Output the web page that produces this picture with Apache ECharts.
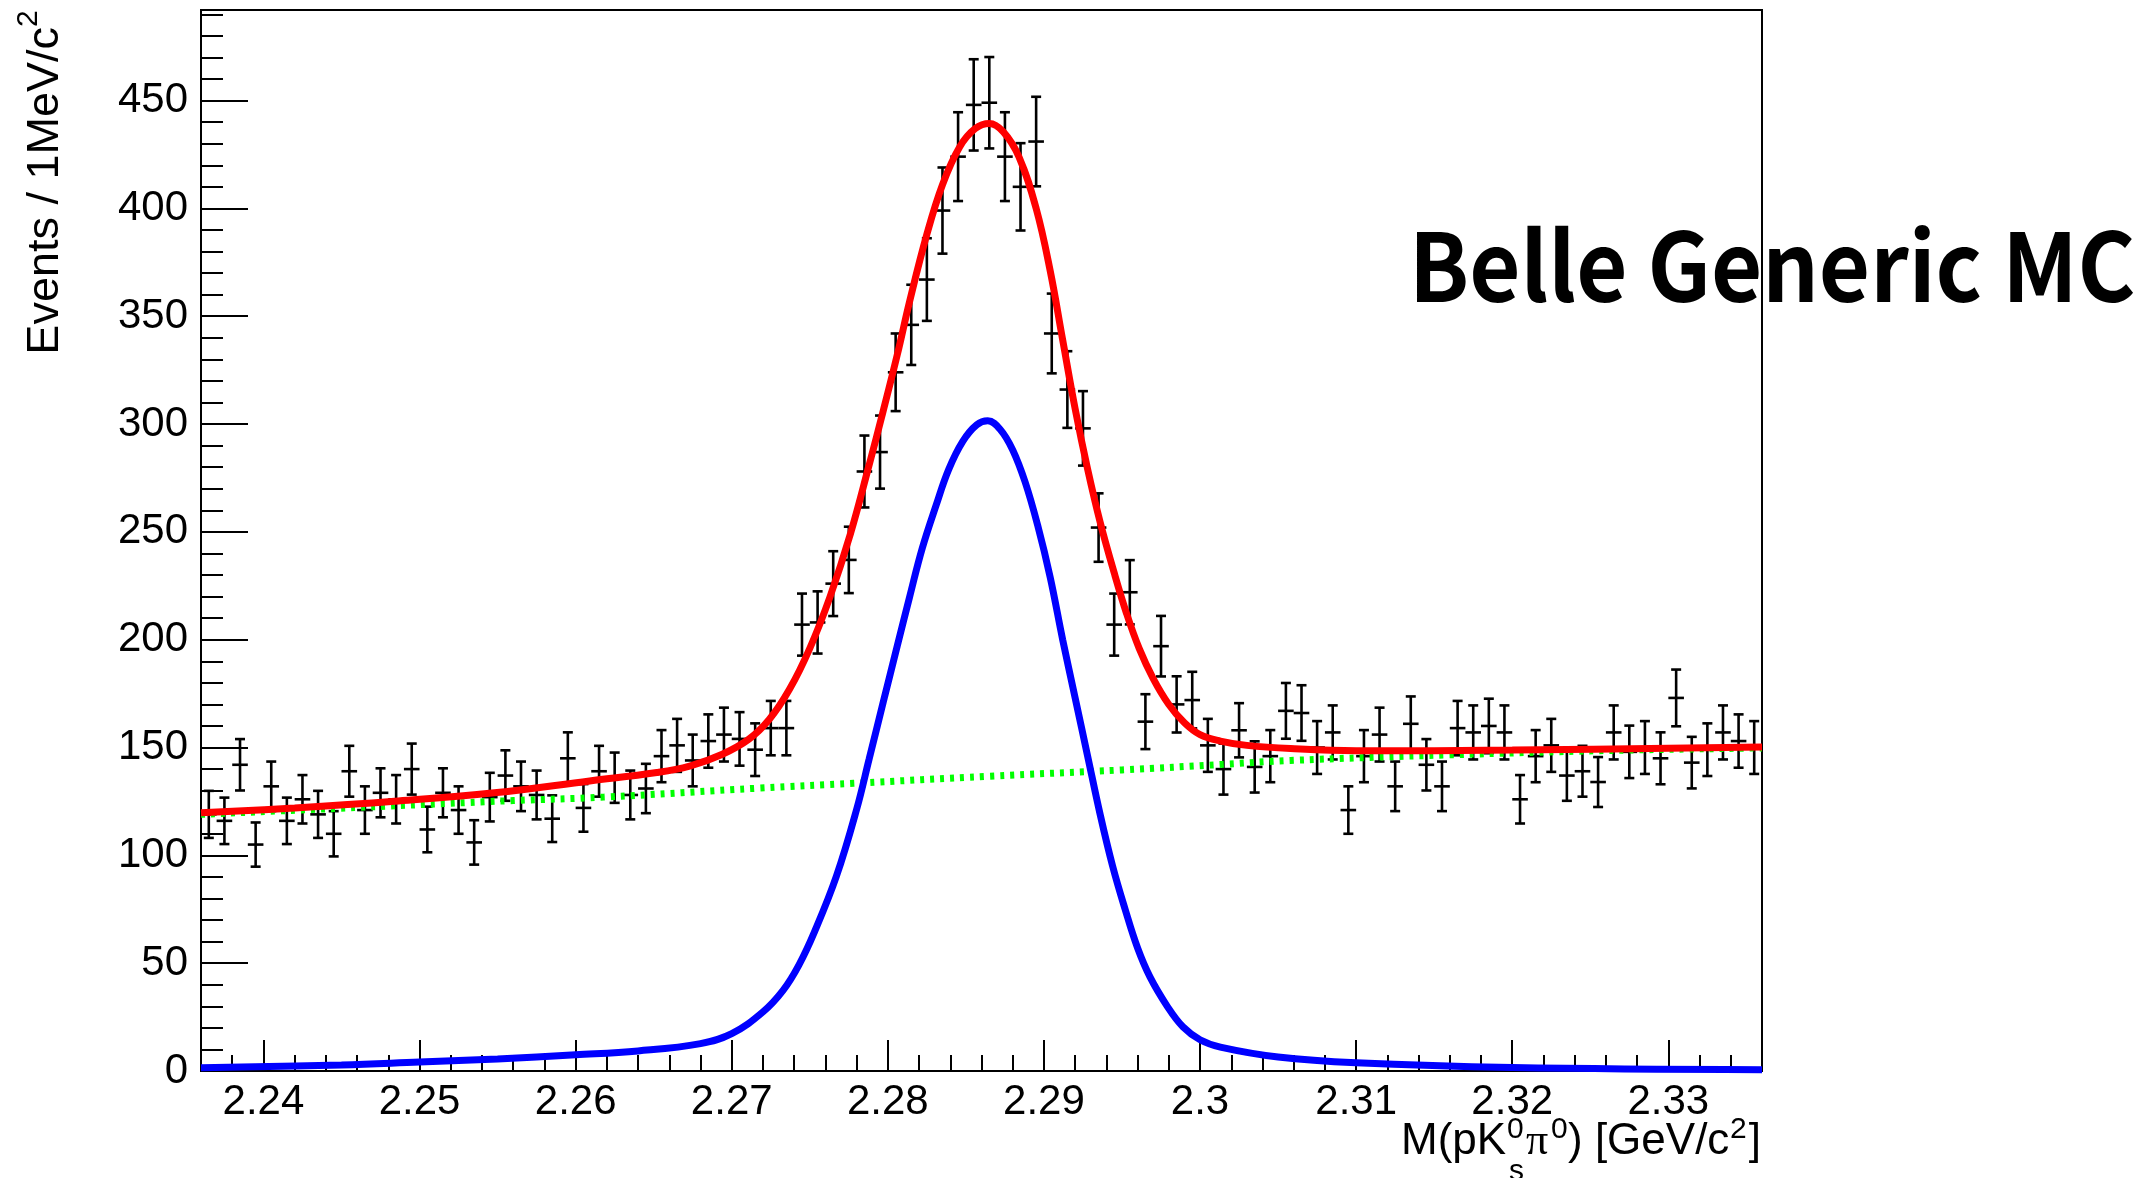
<!DOCTYPE html>
<html>
<head>
<meta charset="utf-8">
<title>Belle Generic MC</title>
<script src="https://cdn.jsdelivr.net/npm/echarts@6/dist/echarts.min.js"></script>
<style>
  html, body { margin: 0; padding: 0; background: #fff; }
  #main { width: 2156px; height: 1178px; }
</style>
</head>
<body>
<div id="main"></div>
<script>
// histogram binning (1 MeV bins)
const binLow = 2.236;
const binWidth = 0.001;
const xMin = 2.236;
const xMax = 2.336;
const yMax = 492;

// events per bin
const counts = [
  119, 116, 142, 105, 132, 116, 126, 119, 110, 139,
  121, 129, 126, 140, 112, 129, 121, 106, 127, 137,
  132, 128, 117, 145, 122, 139, 136, 128, 131, 146,
  151, 144, 153, 156, 154, 149, 159, 159, 207, 208,
  226, 237, 278, 287, 324, 346, 367, 399, 424, 448,
  449, 424, 410, 431, 342, 316, 298, 252, 207, 222,
  162, 197, 170, 172, 151, 140, 158, 141, 146, 167,
  166, 150, 157, 121, 146, 156, 132, 161, 142, 132,
  159, 157, 160, 157, 126, 146, 151, 137, 139, 134,
  157, 148, 150, 145, 173, 143, 149, 157, 153, 150
];

// tick labels
const xTickLabels = [2.24, 2.25, 2.26, 2.27, 2.28, 2.29, 2.30, 2.31, 2.32, 2.33];
const yTickLabels = [0, 50, 100, 150, 200, 250, 300, 350, 400, 450];

// fit curves: [mass, events]
const totalFit = [
  [2.2360, 119.7], [2.2420, 122.0], [2.2484, 125.1], [2.2548, 129.0], [2.2609, 134.5],
  [2.2652, 138.4], [2.2673, 141.4], [2.2694, 146.9], [2.2711, 153.9], [2.2724, 163.0],
  [2.2737, 177.0], [2.2750, 196.0], [2.2763, 220.0], [2.2776, 249.0], [2.2788, 281.0],
  [2.2797, 306.0], [2.2806, 332.0], [2.2814, 357.0], [2.2825, 388.0], [2.2835, 411.0],
  [2.2846, 428.5], [2.2856, 437.0], [2.2865, 439.4], [2.2874, 435.5], [2.2884, 423.9],
  [2.2895, 400.0], [2.2904, 371.1], [2.2912, 339.0], [2.2920, 307.0], [2.2928, 279.0],
  [2.2936, 254.5], [2.2945, 231.0], [2.2953, 212.0], [2.2961, 196.0], [2.2970, 182.0],
  [2.2980, 170.0], [2.2990, 161.5], [2.3000, 156.0], [2.3013, 153.0], [2.3030, 151.0],
  [2.3058, 149.5], [2.3100, 148.5], [2.3200, 148.8], [2.3360, 150.2]
];
const signalFit = [
  [2.2360, 1.5], [2.2450, 2.8], [2.2500, 4.2], [2.2550, 5.6], [2.2600, 7.5],
  [2.2640, 9.3], [2.2680, 12.7], [2.2700, 17.3], [2.2720, 27.4], [2.2733, 37.5],
  [2.2743, 49.1], [2.2753, 64.5], [2.2767, 90.2], [2.2780, 121.3], [2.2788, 144.6],
  [2.2797, 170.9], [2.2806, 197.0], [2.2814, 220.0], [2.2822, 242.3], [2.2831, 262.5],
  [2.2839, 279.0], [2.2848, 292.0], [2.2857, 299.7], [2.2864, 301.5], [2.2872, 297.5],
  [2.2880, 288.0], [2.2888, 273.0], [2.2896, 253.0], [2.2904, 229.0], [2.2912, 200.0],
  [2.2920, 173.0], [2.2928, 146.0], [2.2936, 119.0], [2.2944, 95.0], [2.2952, 75.0],
  [2.2960, 57.0], [2.2968, 43.5], [2.2979, 30.0], [2.2989, 20.5], [2.3000, 14.5],
  [2.3013, 11.1], [2.3050, 6.5], [2.3100, 3.8], [2.3200, 1.6], [2.3360, 0.6]
];
const backgroundFit = [
  [2.2360, 119.0], [2.2460, 122.2], [2.2560, 125.4], [2.2618, 127.0], [2.2718, 131.2],
  [2.2778, 133.4], [2.2865, 136.7], [2.2950, 139.6], [2.3015, 142.2], [2.3058, 144.0],
  [2.3160, 146.6], [2.3260, 148.6], [2.3360, 149.8]
];

// minor tick positions
const xMinorTicks = [];
for (let k = 1118; k <= 1168; k++) {
  if (k % 5 !== 0) xMinorTicks.push(+(k * 0.002).toFixed(3));
}
const yMinorTicks = [];
for (let v = 10; v < yMax; v += 10) {
  if (v % 50 !== 0) yMinorTicks.push(v);
}

const histData = counts.map((c, i) => [binLow + (i + 0.5) * binWidth, c]);

const FONT = 'Liberation Sans, Arial, Helvetica, sans-serif';

const chart = echarts.init(document.getElementById('main'));

const option = {
  animation: false,
  backgroundColor: '#fff',
  grid: {
    left: 201,
    top: 10,
    right: 394,
    bottom: 107,
    show: true,
    borderColor: '#000',
    borderWidth: 2,
    backgroundColor: 'transparent',
    containLabel: false,
    outerBoundsMode: 'none'
  },
  xAxis: [
    {
      type: 'value',
      position: 'bottom',
      min: xMin,
      max: xMax,
      axisLine: { show: true, lineStyle: { color: '#000', width: 2 } },
      axisTick: { show: true, inside: true, length: 31, customValues: xTickLabels, lineStyle: { color: '#000', width: 2 } },
      axisLabel: {
        show: true,
        customValues: xTickLabels,
        margin: 10,
        color: '#000',
        fontSize: 42,
        fontFamily: FONT,
        formatter: v => String(+(+v).toFixed(2))
      },
      splitLine: { show: false }
    },
    {
      type: 'value',
      position: 'bottom',
      min: xMin,
      max: xMax,
      axisLine: { show: false },
      axisTick: { show: true, inside: true, length: 16, customValues: xMinorTicks, lineStyle: { color: '#000', width: 2 } },
      axisLabel: { show: false },
      splitLine: { show: false }
    }
  ],
  yAxis: [
    {
      type: 'value',
      position: 'left',
      min: 0,
      max: yMax,
      axisLine: { show: true, lineStyle: { color: '#000', width: 2 } },
      axisTick: { show: true, inside: true, length: 47, customValues: yTickLabels, lineStyle: { color: '#000', width: 2 } },
      axisLabel: {
        show: true,
        customValues: yTickLabels,
        margin: 13,
        color: '#000',
        fontSize: 42,
        fontFamily: FONT
      },
      splitLine: { show: false }
    },
    {
      type: 'value',
      position: 'left',
      min: 0,
      max: yMax,
      axisLine: { show: false },
      axisTick: { show: true, inside: true, length: 22, customValues: yMinorTicks, lineStyle: { color: '#000', width: 2 } },
      axisLabel: { show: false },
      splitLine: { show: false }
    }
  ],
  series: [
    {
      name: 'data',
      type: 'custom',
      z: 2,
      data: histData,
      encode: { x: 0, y: 1 },
      renderItem: function (params, api) {
        const x = api.value(0);
        const y = api.value(1);
        const e = Math.sqrt(y);
        const lo = api.coord([x, y - e]);
        const hi = api.coord([x, y + e]);
        const l = api.coord([x - binWidth / 2, y]);
        const r = api.coord([x + binWidth / 2, y]);
        const cap = 5;
        const style = { stroke: '#000', lineWidth: 2.6 };
        return {
          type: 'group',
          children: [
            { type: 'line', shape: { x1: lo[0], y1: lo[1], x2: hi[0], y2: hi[1] }, style: style },
            { type: 'line', shape: { x1: l[0], y1: l[1], x2: r[0], y2: r[1] }, style: style },
            { type: 'line', shape: { x1: lo[0] - cap, y1: lo[1], x2: lo[0] + cap, y2: lo[1] }, style: style },
            { type: 'line', shape: { x1: hi[0] - cap, y1: hi[1], x2: hi[0] + cap, y2: hi[1] }, style: style }
          ]
        };
      }
    },
    {
      name: 'background',
      type: 'line',
      z: 3,
      data: backgroundFit,
      smooth: 0.4,
      showSymbol: false,
      lineStyle: { color: '#00ff00', width: 7, type: [4, 6], cap: 'butt' }
    },
    {
      name: 'signal',
      type: 'line',
      z: 4,
      data: signalFit,
      smooth: 0.4,
      showSymbol: false,
      lineStyle: { color: '#0000ff', width: 7 }
    },
    {
      name: 'total',
      type: 'line',
      z: 5,
      data: totalFit,
      smooth: 0.4,
      showSymbol: false,
      lineStyle: { color: '#ff0000', width: 7 }
    }
  ],
  graphic: [
    // y axis title
    {
      type: 'text',
      x: 46,
      y: 27,
      rotation: Math.PI / 2,
      style: { text: 'Events / 1MeV/c', font: '45px ' + FONT, fill: '#000', align: 'right', verticalAlign: 'middle' }
    },
    {
      type: 'text',
      x: 29,
      y: 27,
      rotation: Math.PI / 2,
      style: { text: '2', font: '30px ' + FONT, fill: '#000', align: 'left', verticalAlign: 'middle' }
    },
    // x axis title pieces
    { type: 'text', x: 1401, y: 1142, style: { text: 'M(pK', font: '44px ' + FONT, fill: '#000', verticalAlign: 'middle' } },
    { type: 'text', x: 1507, y: 1130, style: { text: '0', font: '30px ' + FONT, fill: '#000', verticalAlign: 'middle' } },
    { type: 'text', x: 1509, y: 1172, style: { text: 's', font: '30px ' + FONT, fill: '#000', verticalAlign: 'middle' } },
    { type: 'text', x: 1526, y: 1142, style: { text: 'π', font: '44px Liberation Serif, serif', fill: '#000', verticalAlign: 'middle' } },
    { type: 'text', x: 1551, y: 1130, style: { text: '0', font: '30px ' + FONT, fill: '#000', verticalAlign: 'middle' } },
    { type: 'text', x: 1568, y: 1142, style: { text: ') [GeV/c', font: '44px ' + FONT, fill: '#000', verticalAlign: 'middle' } },
    { type: 'text', x: 1730, y: 1130, style: { text: '2', font: '30px ' + FONT, fill: '#000', verticalAlign: 'middle' } },
    { type: 'text', x: 1761, y: 1142, style: { text: ']', font: '44px ' + FONT, fill: '#000', align: 'right', verticalAlign: 'middle' } },
    // label
    {
      type: 'text',
      x: 1409,
      y: 266,
      z: 10,
      scaleX: 0.93,
      style: {
        text: 'Belle Generic MC',
        font: 'bold 95px "Noto Sans CJK JP", "Noto Sans", sans-serif',
        fill: '#000',
        verticalAlign: 'middle'
      }
    }
  ]
};

chart.setOption(option);
</script>
</body>
</html>
